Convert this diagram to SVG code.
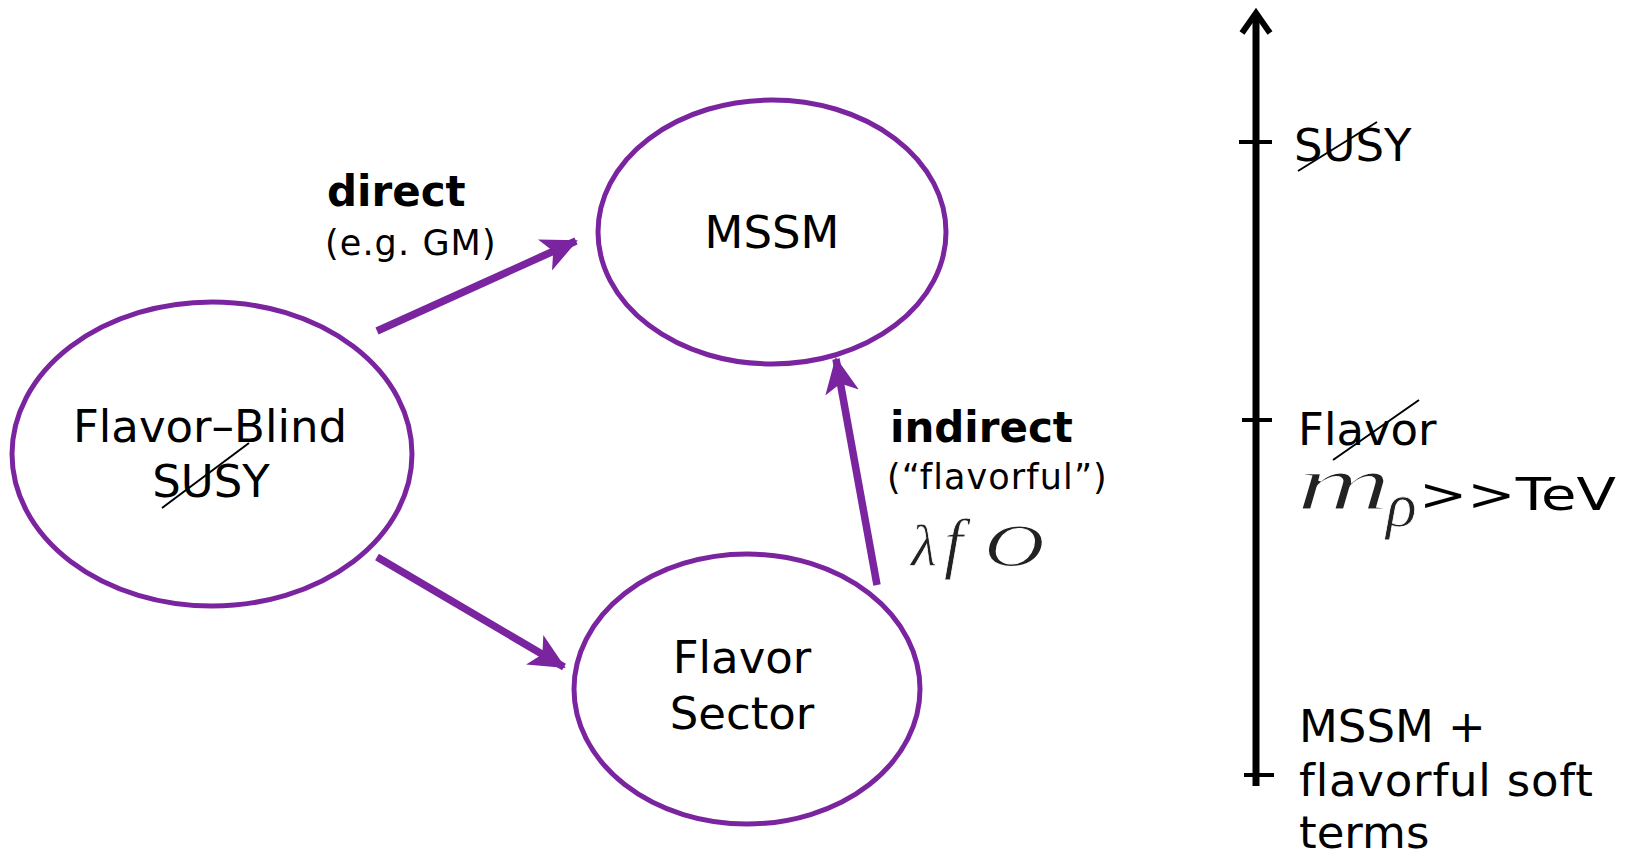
<svg xmlns="http://www.w3.org/2000/svg" width="1632" height="857" viewBox="0 0 1632 857">
<style>
.node{fill:#fff;stroke:#7a24a0;stroke-width:5}
.lbl{font-family:"DejaVu Sans",sans-serif;font-size:45px;fill:#000;text-anchor:middle}
.edge{stroke:#7a24a0;stroke-width:7.5;fill:none}
.b{font-family:"DejaVu Sans",sans-serif;font-weight:bold;font-size:42px;fill:#000}
.s{font-family:"DejaVu Sans",sans-serif;font-size:35px;letter-spacing:1.1px;fill:#000}
.r{font-family:"DejaVu Sans",sans-serif;font-size:45px;fill:#000}
.strike{stroke:#000;stroke-width:2}
.math{font-family:"Liberation Serif",serif;font-style:italic;fill:#222}
</style>
<defs>
<marker id="ah" markerUnits="userSpaceOnUse" markerWidth="36" markerHeight="34" refX="34" refY="17" orient="auto">
<path d="M0,0 L36,17 L0,34 L9,17 Z" fill="#7a24a0"/>
</marker>
</defs>
<g id="connectors">
<line class="edge" x1="377" y1="331" x2="576" y2="241" marker-end="url(#ah)"/>
<line class="edge" x1="377" y1="557" x2="564" y2="667" marker-end="url(#ah)"/>
<line class="edge" x1="877" y1="585" x2="836" y2="359" marker-end="url(#ah)"/>
</g>
<g id="node-flavor-blind">
<ellipse class="node" cx="212" cy="454" rx="200" ry="152"/>
<text class="lbl" x="210" y="442">Flavor–Blind</text>
<text class="lbl" x="211" y="497">SUSY</text>
<line class="strike" x1="162" y1="508" x2="249" y2="443"/>
</g>
<g id="node-mssm">
<ellipse class="node" cx="772" cy="232" rx="174" ry="132"/>
<text class="lbl" x="772" y="248">MSSM</text>
</g>
<g id="node-flavor-sector">
<ellipse class="node" cx="747" cy="689" rx="173" ry="135"/>
<text class="lbl" x="742" y="673">Flavor</text>
<text class="lbl" x="742" y="729">Sector</text>
</g>
<g id="label-direct">
<text class="b" x="327" y="206">direct</text>
<text class="s" x="325" y="255">(e.g. GM)</text>
</g>
<g id="label-indirect">
<text class="b" x="890" y="442">indirect</text>
<text class="s" x="887" y="489">(“flavorful”)</text>
<text class="math" x="911" y="566" font-size="60" stroke="#fff" stroke-width="0.8">λ</text>
<text class="math" x="944" y="566" font-size="68" stroke="#fff" stroke-width="0.8">f</text>
<text class="math" x="984" y="566" font-size="62" stroke="#fff" stroke-width="1" transform="translate(984 0) scale(1.35 1) translate(-984 0)">O</text>
</g>
<g id="axis">
<line x1="1256" y1="16" x2="1256" y2="786" stroke="#000" stroke-width="7"/>
<polyline points="1242,33 1256,13 1270,33" fill="none" stroke="#000" stroke-width="6" stroke-linejoin="miter"/>
<line x1="1239" y1="142" x2="1272" y2="142" stroke="#000" stroke-width="4"/>
<line x1="1242" y1="420" x2="1272" y2="420" stroke="#000" stroke-width="4"/>
<line x1="1244" y1="775" x2="1274" y2="775" stroke="#000" stroke-width="4"/>
</g>
<g id="axis-labels">
<text class="r" x="1294" y="161">SUSY</text>
<line class="strike" x1="1298" y1="171" x2="1377" y2="122"/>
<text class="r" x="1298" y="445">Flavor</text>
<line class="strike" x1="1333" y1="460" x2="1419" y2="400"/>
<text class="math" x="1296" y="510" font-size="78" stroke="#fff" stroke-width="1.8" transform="translate(1296 0) scale(1.7 1) translate(-1296 0)">m</text>
<text class="math" x="1386" y="526" font-size="64" stroke="#fff" stroke-width="0.8">ρ</text>
<text class="r" x="1419" y="510" font-size="50" textLength="197" lengthAdjust="spacingAndGlyphs">&gt;&gt;TeV</text>
<text class="r" x="1299" y="742">MSSM +</text>
<text class="r" x="1299" y="796" letter-spacing="0.8">flavorful soft</text>
<text class="r" x="1299" y="848">terms</text>
</g>
</svg>
